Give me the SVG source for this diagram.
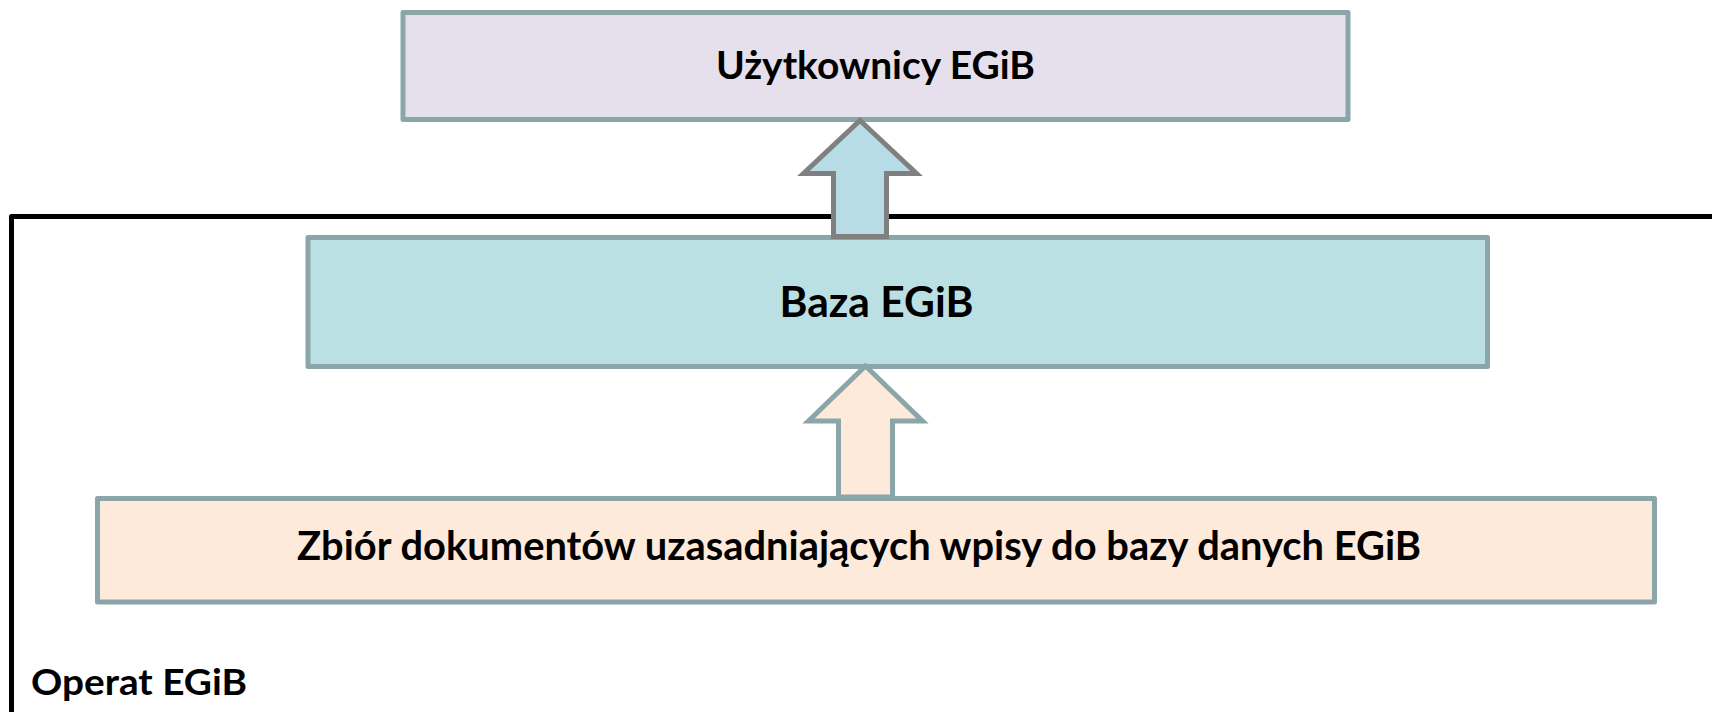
<svg xmlns="http://www.w3.org/2000/svg" width="1712" height="712" viewBox="0 0 1712 712">
  <style>
    .box { stroke: #8BA6A9; stroke-width: 5; stroke-linejoin: round; }
    .lbl { font-family: Lato, "Open Sans", "Liberation Sans", sans-serif; font-weight: bold; fill: #000000; }
    .frame { fill: none; stroke: #000000; stroke-width: 5; stroke-linejoin: round; }
    .arrow { stroke-width: 5; stroke-linejoin: miter; }
  </style>
  <rect width="1712" height="712" fill="#FFFFFF"/>

  <g id="operat">
    <path class="frame" d="M11.5,720 L11.5,216.5 L1720,216.5"/>
    <text class="lbl" x="31" y="695" font-size="36" textLength="216" lengthAdjust="spacingAndGlyphs">Operat EGiB</text>
  </g>

  <g id="baza">
    <rect class="box" x="308" y="237.5" width="1179.5" height="129" fill="#BAE0E3"/>
    <text class="lbl" x="779.5" y="316.7" font-size="42" textLength="194" lengthAdjust="spacingAndGlyphs">Baza EGiB</text>
  </g>

  <g id="uzytkownicy">
    <rect class="box" x="403" y="12.5" width="945" height="107" fill="#E5E0EC"/>
    <text class="lbl" x="716" y="79.3" font-size="37.5" textLength="319" lengthAdjust="spacingAndGlyphs">Użytkownicy EGiB</text>
  </g>

  <g id="zbior">
    <rect class="box" x="97.5" y="498.5" width="1557" height="103.5" fill="#FDEADA"/>
    <text class="lbl" x="297" y="560" font-size="39.5" textLength="1124" lengthAdjust="spacingAndGlyphs">Zbiór dokumentów uzasadniających wpisy do bazy danych EGiB</text>
  </g>

  <g id="connectors">
    <path class="arrow" fill="#B7DCE6" stroke="#808080" d="M860,120.5 L916.5,173.5 L886.5,173.5 L886.5,236.5 L833.5,236.5 L833.5,173.5 L803.5,173.5 Z"/>
    <path class="arrow" fill="#FDEADA" stroke="#8BA6A9" d="M865.5,366 L922.5,421 L892.5,421 L892.5,497 L838.5,497 L838.5,421 L808.5,421 Z"/>
  </g>
</svg>
